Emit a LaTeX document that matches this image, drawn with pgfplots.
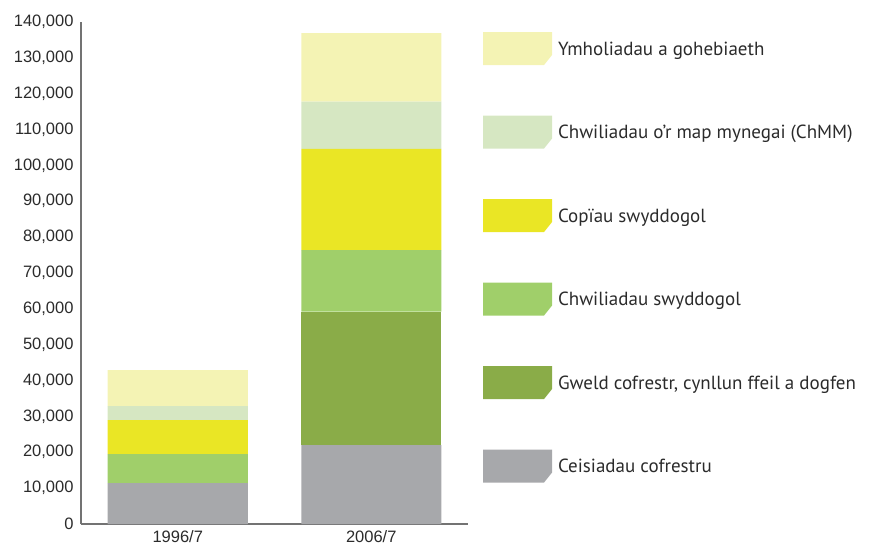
\documentclass[border=0pt]{standalone}
\usepackage{fontspec}
\setmainfont{PT Sans}
\newfontfamily\tickfont{Liberation Sans}
\usepackage{pgfplots}
\pgfplotsset{compat=1.18}
\definecolor{cgrey}{HTML}{A7A8AB}
\definecolor{cdkgreen}{HTML}{8AAC48}
\definecolor{cltgreen}{HTML}{A0CF6A}
\definecolor{cyellow}{HTML}{EAE625}
\definecolor{cpalegreen}{HTML}{D6E7C2}
\definecolor{cpaleyellow}{HTML}{F4F3B4}
\definecolor{ctext}{HTML}{2B2B2B}
\begin{document}
\begin{tikzpicture}
\begin{axis}[
  name=ax,
  scale only axis,
  width=387bp, height=502bp,
  xmin=-0.5, xmax=1.5,
  ymin=0, ymax=140000,
  ybar stacked,
  bar width=140bp,
  xtick={0,1},
  xticklabels={1996/7,2006/7},
  scaled y ticks=false,
  ytick={0,10000,20000,30000,40000,50000,60000,70000,80000,90000,100000,110000,120000,130000,140000},
  yticklabels={0,{10,000},{20,000},{30,000},{40,000},{50,000},{60,000},{70,000},{80,000},{90,000},{100,000},{110,000},{120,000},{130,000},{140,000}},
  major tick length=0pt,
  axis x line*=bottom,
  axis y line*=left,
  axis line style={draw=black!55, line width=1.1pt, -},
  tick label style={font=\tickfont\fontsize{16.5bp}{19bp}\selectfont, text=ctext},
  yticklabel style={xshift=-4bp},
  xticklabel style={yshift=-3bp},
  reverse legend,
  legend cell align=left,
  legend style={
    at={(axis description cs:1.0388,0.980)}, anchor=north west,
    draw=none, fill=none, inner sep=0pt, outer sep=0pt,
    row sep=50.5bp, column sep=6bp,
    nodes={inner sep=0pt, text=ctext},
    font=\fontsize{19bp}{22bp}\selectfont,
  },
  legend image code/.code={%
    \fill[#1,draw=none] (0bp,-16bp) -- (0bp,17bp) -- (69bp,17bp) -- (69bp,-6bp) -- (61bp,-16bp) -- cycle;
  },
]
\addplot[fill=cgrey, draw=none] coordinates {(0,11400) (1,22000)};
\addlegendentry{Ceisiadau cofrestru}
\addplot[fill=cdkgreen, draw=none] coordinates {(0,0) (1,37200)};
\addlegendentry{Gweld cofrestr, cynllun ffeil a dogfen}
\addplot[fill=cltgreen, draw=none] coordinates {(0,8100) (1,17200)};
\addlegendentry{Chwiliadau swyddogol}
\addplot[fill=cyellow, draw=none] coordinates {(0,9500) (1,28200)};
\addlegendentry{Copïau swyddogol}
\addplot[fill=cpalegreen, draw=none] coordinates {(0,3900) (1,13200)};
\addlegendentry{Chwiliadau o’r map mynegai (ChMM)}
\addplot[fill=cpaleyellow, draw=none] coordinates {(0,10000) (1,19100)};
\addlegendentry{Ymholiadau a gohebiaeth}
\end{axis}
\path ([shift={(-81bp,-25bp)}]ax.south west) rectangle ([shift={(794bp,524bp)}]ax.south west);
\end{tikzpicture}
\end{document}
